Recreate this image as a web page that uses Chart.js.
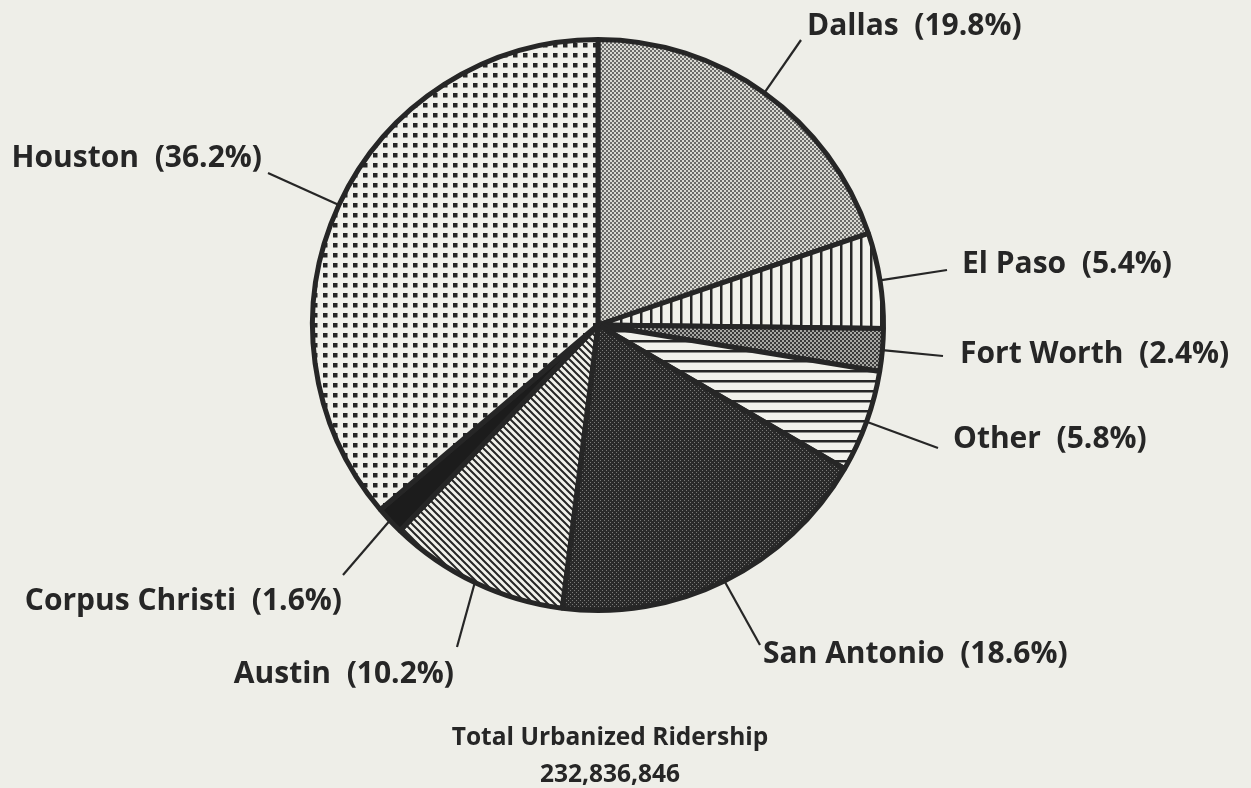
<!DOCTYPE html>
<html>
<head>
<meta charset="utf-8">
<script src="https://cdn.jsdelivr.net/npm/chart.js@4"></script>
<style>
    html, body { margin: 0; padding: 0; background: #eeeee8; }
    #wrap { width: 1251px; height: 788px; position: relative; }
</style>
</head>
<body>
<div id="wrap"><canvas id="pie" width="1251" height="788"></canvas></div>
<script>
// Urbanized transit ridership share, Texas cities
const cities = ['Dallas', 'El Paso', 'Fort Worth', 'Other', 'San Antonio', 'Austin', 'Corpus Christi', 'Houston'];
const shares = [19.8, 5.4, 2.4, 5.8, 18.6, 10.2, 1.6, 36.2];
const totalTitle = 'Total Urbanized Ridership';
const totalRidership = '232,836,846';

// label placement (text anchor + end of leader line), same order as cities
const labelLayout = [
    { tx: 807, ty: 35,  align: 'left',  lx: 801, ly: 40 },
    { tx: 962, ty: 273, align: 'left',  lx: 947, ly: 270 },
    { tx: 960, ty: 363, align: 'left',  lx: 943, ly: 356 },
    { tx: 953, ty: 448, align: 'left',  lx: 938, ly: 448 },
    { tx: 763, ty: 663, align: 'left',  lx: 760, ly: 645 },
    { tx: 454, ty: 683, align: 'right', lx: 457, ly: 647 },
    { tx: 342, ty: 610, align: 'right', lx: 343, ly: 575 },
    { tx: 262, ty: 167, align: 'right', lx: 268, ly: 173 }
];

const INK = '#262626';
const PAPER = '#f1f1eb';

// small tile helper for the print-style fills
const makePattern = (size, draw) => {
    const c = document.createElement('canvas');
    c.width = size;
    c.height = size;
    const g = c.getContext('2d');
    draw(g, size);
    return g.createPattern(c, 'repeat');
};

const patterns = {
    // light stipple
    dallas: makePattern(4, (g) => {
        g.fillStyle = '#d8d8d2'; g.fillRect(0, 0, 4, 4);
        g.fillStyle = '#6a6a68'; g.fillRect(0, 0, 2, 2); g.fillRect(2, 2, 2, 2);
    }),
    // vertical rules
    elPaso: makePattern(10, (g) => {
        g.fillStyle = PAPER; g.fillRect(0, 0, 10, 10);
        g.fillStyle = INK; g.fillRect(0, 0, 2.5, 10);
    }),
    // medium stipple
    fortWorth: makePattern(4, (g) => {
        g.fillStyle = '#a8a8a4'; g.fillRect(0, 0, 4, 4);
        g.fillStyle = '#3a3a3a'; g.fillRect(0, 0, 2, 2); g.fillRect(2, 2, 2, 2);
    }),
    // horizontal rules
    other: makePattern(10, (g) => {
        g.fillStyle = PAPER; g.fillRect(0, 0, 10, 10);
        g.fillStyle = INK; g.fillRect(0, 0, 10, 2.5);
    }),
    // dark stipple
    sanAntonio: makePattern(4, (g) => {
        g.fillStyle = '#2a2a2a'; g.fillRect(0, 0, 4, 4);
        g.fillStyle = '#7a7a78'; g.fillRect(0, 0, 1, 1); g.fillRect(2, 2, 1, 1);
    }),
    // diagonal rules
    austin: makePattern(7, (g) => {
        g.fillStyle = PAPER; g.fillRect(0, 0, 7, 7);
        g.strokeStyle = INK; g.lineWidth = 2;
        g.beginPath();
        g.moveTo(-1, -1); g.lineTo(8, 8);
        g.moveTo(-1, 6); g.lineTo(1, 8);
        g.moveTo(6, -1); g.lineTo(8, 1);
        g.stroke();
    }),
    corpus: '#1c1c1c',
    // dotted grid
    houston: makePattern(10, (g) => {
        g.fillStyle = PAPER; g.fillRect(0, 0, 10, 10);
        g.fillStyle = INK; g.fillRect(3, 3, 4.5, 4.5);
    })
};

const fills = [
    patterns.dallas, patterns.elPaso, patterns.fortWorth, patterns.other,
    patterns.sanAntonio, patterns.austin, patterns.corpus, patterns.houston
];

// leader lines, slice labels and the total caption
const labelPlugin = {
    id: 'pieLabels',
    afterDraw: (chart) => {
        const ctx = chart.ctx;
        const meta = chart.getDatasetMeta(0);
        ctx.save();
        ctx.strokeStyle = INK;
        ctx.lineWidth = 2.2;
        ctx.fillStyle = INK;
        ctx.font = 'bold 30px "Open Sans"';
        ctx.textBaseline = 'alphabetic';

        meta.data.forEach((arc, i) => {
            const p = arc.getProps(['x', 'y', 'startAngle', 'endAngle', 'outerRadius'], true);
            const mid = (p.startAngle + p.endAngle) / 2;
            const sx = p.x + Math.cos(mid) * p.outerRadius;
            const sy = p.y + Math.sin(mid) * p.outerRadius;
            const lay = labelLayout[i];

            ctx.beginPath();
            ctx.moveTo(sx, sy);
            ctx.lineTo(lay.lx, lay.ly);
            ctx.stroke();

            ctx.textAlign = lay.align;
            ctx.fillText(`${cities[i]}  (${shares[i].toFixed(1)}%)`, lay.tx, lay.ty);
        });

        ctx.textAlign = 'center';
        ctx.font = 'bold 24.5px "Open Sans"';
        ctx.fillText(totalTitle, 610, 745);
        ctx.fillText(totalRidership, 610, 782);
        ctx.restore();
    }
};

new Chart(document.getElementById('pie'), {
    type: 'pie',
    data: {
        labels: cities,
        datasets: [{
            data: shares,
            backgroundColor: fills,
            borderColor: INK,
            borderWidth: 5,
            hoverOffset: 0
        }]
    },
    options: {
        responsive: false,
        animation: false,
        events: [],
        layout: {
            padding: { left: 310, right: 365, top: 37, bottom: 175 }
        },
        plugins: {
            legend: { display: false },
            tooltip: { enabled: false }
        }
    },
    plugins: [labelPlugin]
});
</script>
</body>
</html>
